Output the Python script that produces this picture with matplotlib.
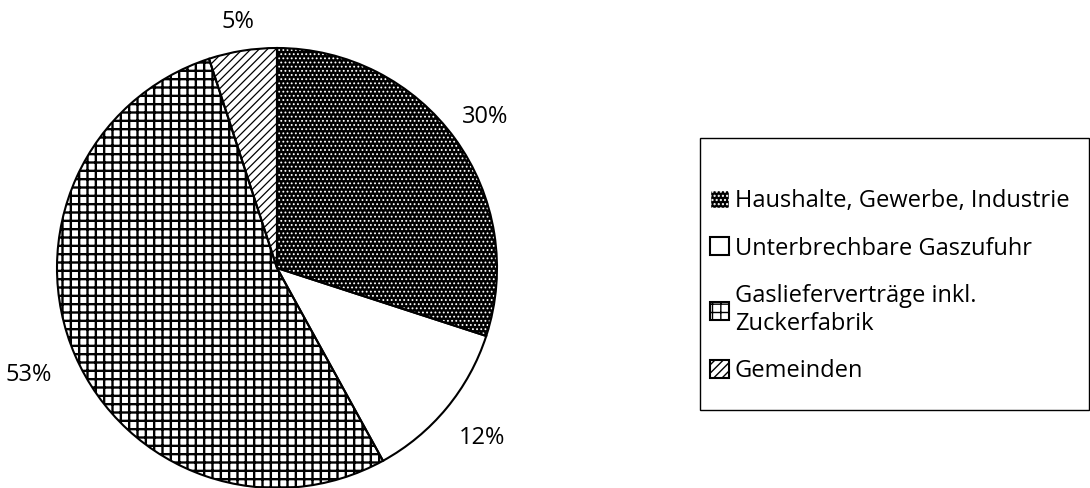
import numpy as np
import matplotlib.pyplot as plt
from matplotlib.patches import Patch, Rectangle

plt.rcParams['font.family'] = ['Open Sans', 'DejaVu Sans']

labels = ["Haushalte, Gewerbe, Industrie", "Unterbrechbare Gaszufuhr",
          "Gaslieferverträge inkl.\nZuckerfabrik", "Gemeinden"]
shares = [30, 12, 53, 5]

fig = plt.figure(figsize=(10.9, 4.88), dpi=100)
ax = fig.add_axes([57 / 1090, 0.0, 440 / 1090, 440 / 488])

# fill + hatches (hatch colour comes from the edge colour)
faces = ["black", "white", "white", "white"]
hatch_cols = ["white", "white", "black", "black"]
hatches = ["....", None, "++", "////"]
hatch_lw = [0.8, 1.0, 1.7, 0.9]
label_dist = [1.17, 1.21, 1.23, 1.13]

wedges, texts, autotexts = ax.pie(
    shares, startangle=90, counterclock=False, radius=1,
    autopct=lambda p: f"{p:.0f}%", pctdistance=1.17,
    textprops=dict(fontsize=17),
    wedgeprops=dict(linewidth=0))
for w, fc, hc, h, lw in zip(wedges, faces, hatch_cols, hatches, hatch_lw):
    w.set_facecolor(fc)
    w.set_edgecolor(hc)
    if h:
        w.set_hatch(h)
        if hasattr(w, "set_hatch_linewidth"):
            w.set_hatch_linewidth(lw)

# nudge percentage labels outwards, along each wedge's mid angle
for w, t, d in zip(wedges, autotexts, label_dist):
    ang = np.deg2rad((w.theta1 + w.theta2) / 2)
    t.set_position((d * np.cos(ang), d * np.sin(ang)))

# outlines on top
ax.pie(shares, startangle=90, counterclock=False, radius=1,
       colors=["none"] * 4,
       wedgeprops=dict(edgecolor="black", linewidth=1.5, fill=False))
ax.set_xlim(-1, 1)
ax.set_ylim(-1, 1)
ax.set_aspect("equal")
ax.axis("off")

handles = [Patch(facecolor="black", edgecolor="white", hatch="...."),
           Patch(facecolor="white", edgecolor="black", linewidth=1.5),
           Patch(facecolor="white", edgecolor="black", hatch="++", linewidth=1.5),
           Patch(facecolor="white", edgecolor="black", hatch="////", linewidth=1.5)]
for hnd, lw in zip(handles, hatch_lw):
    if hasattr(hnd, "set_hatch_linewidth"):
        hnd.set_hatch_linewidth(lw)

leg = fig.legend(handles, labels, loc="upper left",
                 bbox_to_anchor=(710 / 1090, 1 - 189 / 488),
                 fontsize=17, frameon=False, handlelength=0.8,
                 handleheight=0.8, handletextpad=0.25, labelspacing=1.0,
                 borderpad=0, borderaxespad=0)

fig.patches.append(Rectangle((700 / 1090, (488 - 410) / 488), 389 / 1090,
                             272 / 488, transform=fig.transFigure,
                             fill=False, edgecolor="black", linewidth=1.0))

fig.savefig("out.png", dpi=100)
